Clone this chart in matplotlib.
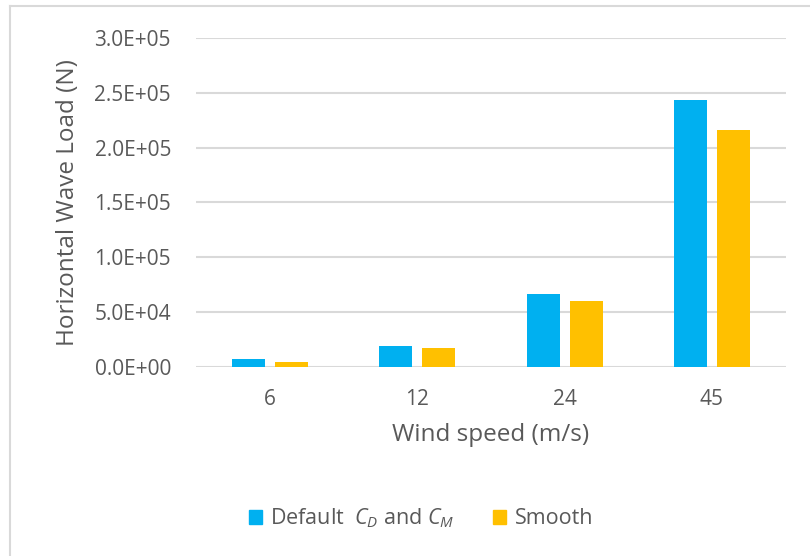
import numpy as np
import matplotlib
matplotlib.use('Agg')
import matplotlib.pyplot as plt
from matplotlib.patches import Patch
from matplotlib.lines import Line2D
from matplotlib.ticker import FuncFormatter

# Horizontal wave load per wind speed case
wind_speeds = ['6', '12', '24', '45']
default_load = [7300, 19200, 66600, 243000]
smooth_load = [4400, 17100, 60200, 215800]

blue = '#00B0F0'
orange = '#FFC000'
text_gray = '#595959'
grid_gray = '#D9D9D9'

plt.rcParams['font.family'] = ['Open Sans', 'DejaVu Sans']
plt.rcParams['mathtext.fontset'] = 'custom'
plt.rcParams['mathtext.it'] = 'Open Sans:italic'
plt.rcParams['mathtext.rm'] = 'Open Sans'

fig = plt.figure(figsize=(8.1, 5.56), dpi=100)
ax = fig.add_axes([0.242, 0.340, 0.728, 0.592])

x = np.arange(len(wind_speeds))
width = 0.224
offset = 0.146
ax.bar(x - offset, default_load, width, color=blue)
ax.bar(x + offset, smooth_load, width, color=orange)

ax.set_xlim(-0.5, len(wind_speeds) - 0.5)
ax.set_ylim(0, 3.0e5)
ax.set_yticks(np.arange(0, 3.01e5, 5e4))
ax.yaxis.set_major_formatter(FuncFormatter(lambda v, p: '{:.1E}'.format(v)))
ax.set_xticks(x)
ax.set_xticklabels(wind_speeds)

ax.grid(axis='y', color=grid_gray, linewidth=1.5)
ax.set_axisbelow(True)
for s in ax.spines.values():
    s.set_visible(False)
ax.tick_params(axis='both', length=0, labelsize=15, colors=text_gray)
ax.tick_params(axis='y', pad=18)
ax.tick_params(axis='x', pad=16)

ax.set_ylabel('Horizontal Wave Load (N)', fontsize=17.5, color=text_gray, labelpad=10)
ax.set_xlabel('Wind speed (m/s)', fontsize=17.5, color=text_gray, labelpad=9)

handles = [Patch(color=blue), Patch(color=orange)]
labels = [r'Default  $C_D$ and $C_M$', 'Smooth']
fig.legend(handles, labels, loc='center', bbox_to_anchor=(0.52, 0.068), ncol=2,
           frameon=False, fontsize=15.5, labelcolor=text_gray,
           handlelength=0.6, handleheight=0.6, handletextpad=0.4,
           columnspacing=1.8)

# Light frame around the chart area
fig.add_artist(Line2D([10 / 810, 1], [1 - 6 / 556] * 2, transform=fig.transFigure,
                      color=grid_gray, linewidth=1.5))
fig.add_artist(Line2D([10 / 810] * 2, [0, 1 - 6 / 556], transform=fig.transFigure,
                      color=grid_gray, linewidth=1.5))

fig.savefig('out.png', dpi=100)
